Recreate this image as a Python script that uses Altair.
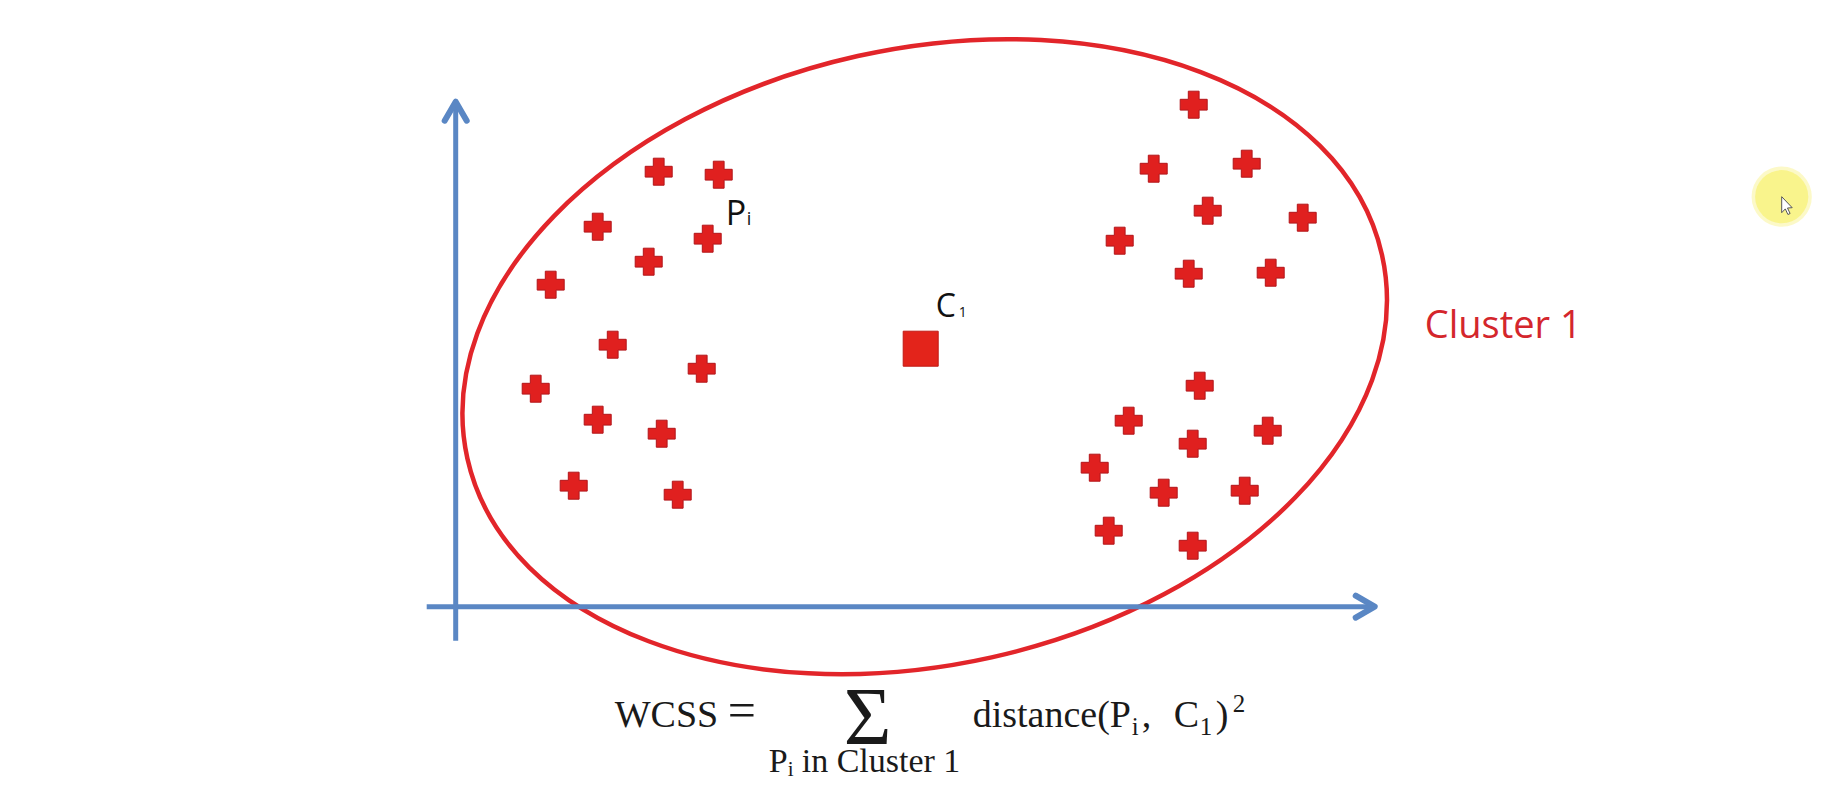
import altair as alt
import pandas as pd

# ---------------- data (origin = axis crossing, 1 unit = 1 px) ----------------
point_x = [203, 263, 142, 252, 193, 95, 157, 246, 80, 142, 206, 118, 222,
           738, 698, 791, 752, 847, 664, 733, 815, 744, 673, 812, 737, 639, 708, 789, 653, 737]
point_y = [435, 432, 380, 368, 345, 322, 262, 238, 218, 187, 173, 121, 112,
           502, 438, 443, 396, 389, 366, 333, 334, 221, 186, 176, 163, 139, 114, 116, 76, 61]
centroid_x = [465]
centroid_y = [258]

# ---------------- layout ----------------
W, H = 1806, 778
X_MIN, Y_MAX = -447.7, 598.7
X_MAX, Y_MIN = X_MIN + W, Y_MAX - H

RED = "#e0201f"
RED_DARK = "#b3151a"
BLUE = "#5a87c4"

xs = alt.Scale(domain=[X_MIN, X_MAX], nice=False, zero=False)
ys = alt.Scale(domain=[Y_MIN, Y_MAX], nice=False, zero=False)
X = lambda f="x": alt.X(f"{f}:Q", scale=xs, axis=None)
Y = lambda f="y": alt.Y(f"{f}:Q", scale=ys, axis=None)

# ellipse (cluster boundary) as a custom symbol
ell_cx, ell_cy, ell_a, ell_b, ell_rot = 469, 250, 468.5, 308, 347.45
k = 0.5523
q = ell_b / ell_a
ELLIPSE = (f"M 1 0 C 1 {k*q:.4f} {k} {q:.4f} 0 {q:.4f} "
           f"C {-k} {q:.4f} -1 {k*q:.4f} -1 0 "
           f"C -1 {-k*q:.4f} {-k} {-q:.4f} 0 {-q:.4f} "
           f"C {k} {-q:.4f} 1 {-k*q:.4f} 1 0 Z")
ellipse = alt.Chart(pd.DataFrame({"x": [ell_cx], "y": [ell_cy]})).mark_point(
    shape=ELLIPSE, size=(2 * ell_a) ** 2, filled=False, stroke="#e2252a",
    strokeWidth=4.5, opacity=1, angle=ell_rot
).encode(x=X(), y=Y())

# axes
axes_df = pd.DataFrame({"x": [-29, 0], "y": [0, -34], "x2": [917, 0], "y2": [0, 503]})
axes = alt.Chart(axes_df).mark_rule(color=BLUE, strokeWidth=5).encode(
    x=X(), y=Y(), x2="x2:Q", y2="y2:Q")

CHEVRON = "M -0.58 1 L 0 0 L 0.58 1"
heads_df = pd.DataFrame({"x": [919, 0], "y": [0, 505], "angle": [90, 0]})
heads = alt.Chart(heads_df).mark_point(
    shape=CHEVRON, size=38 ** 2, filled=False, color=BLUE, strokeWidth=6,
    strokeCap="round", strokeJoin="round", opacity=1
).encode(x=X(), y=Y(), angle=alt.Angle("angle:Q", scale=None))

# points
pts = alt.Chart(pd.DataFrame({"x": point_x, "y": point_y})).mark_point(
    shape="cross", size=27 ** 2, filled=True, fill=RED, stroke=RED_DARK,
    strokeWidth=1, opacity=1
).encode(x=X(), y=Y())

cent = alt.Chart(pd.DataFrame({"x": centroid_x, "y": centroid_y})).mark_point(
    shape="square", size=35 ** 2, filled=True, fill="#e3241b", stroke="#c01a14",
    strokeWidth=1, opacity=1
).encode(x=X(), y=Y())

# labels
sans_df = pd.DataFrame({
    "x": [270, 291, 480, 503],
    "y": [382, 382, 290, 290],
    "t": ["P", "i", "C", "1"],
    "s": [34, 18, 32, 14],
})
sans = alt.Chart(sans_df).mark_text(
    font="Open Sans", align="left", baseline="alphabetic", color="#111111"
).encode(x=X(), y=Y(), text="t:N", size=alt.Size("s:Q", scale=None))

cluster_lbl = alt.Chart(pd.DataFrame({"x": [969], "y": [269], "t": ["Cluster 1"]})).mark_text(
    font="Open Sans", fontSize=38, align="left", baseline="alphabetic", color="#d4262c"
).encode(x=X(), y=Y(), text="t:N")

f_df = pd.DataFrame({
    "x": [159, 272, 517, 654, 676, 686, 718, 744, 760, 777, 313, 332, 346],
    "y": [-120, -120, -120, -120, -128, -120, -120, -128, -120, -105, -165, -169, -165],
    "t": ["WCSS", "=", "distance(", "P", "i", ",", "C", "1", ")", "2",
          "P", "i", "in Cluster 1"],
    "s": [38, 50, 38, 38, 25, 38, 38, 25, 38, 25, 34, 21, 34],
})
formula = alt.Chart(f_df).mark_text(
    font="Liberation Serif", align="left", baseline="alphabetic", color="#1a1a1a"
).encode(x=X(), y=Y(), text="t:N", size=alt.Size("s:Q", scale=None))

sigma = alt.Chart(pd.DataFrame({"x": [412], "y": [-137], "t": ["Σ"]})).mark_text(
    font="Liberation Serif", fontSize=82, align="center", baseline="alphabetic", color="#1a1a1a"
).encode(x=X(), y=Y(), text="t:N")

# cursor highlight
cur_df = pd.DataFrame({"x": [1326], "y": [410]})
glow_outer = alt.Chart(cur_df).mark_circle(size=3.1416 * 34 ** 2, color="#fbf7b0", opacity=0.7).encode(x=X(), y=Y())
glow = alt.Chart(cur_df).mark_circle(size=3.1416 * 30 ** 2, color="#f8f385", opacity=0.9).encode(x=X(), y=Y())
CURSOR = "M 0 0 L 0 1.6 L 0.36 1.22 L 0.62 1.78 L 0.84 1.68 L 0.58 1.13 L 1.05 1.1 Z"
cursor = alt.Chart(cur_df).mark_point(
    shape=CURSOR, size=20 ** 2, filled=True, fill="#ffffff", stroke="#555555",
    strokeWidth=1, opacity=1
).encode(x=X(), y=Y())

chart = alt.layer(
    ellipse, axes, heads, pts, cent, sans, cluster_lbl, formula, sigma,
    glow_outer, glow, cursor
).properties(
    width=W, height=H, padding=0, autosize=alt.AutoSizeParams(type="none"),
    background="#ffffff"
).configure_view(stroke=None)

chart.save("out.html", embed_options={"renderer": "svg", "actions": False})
